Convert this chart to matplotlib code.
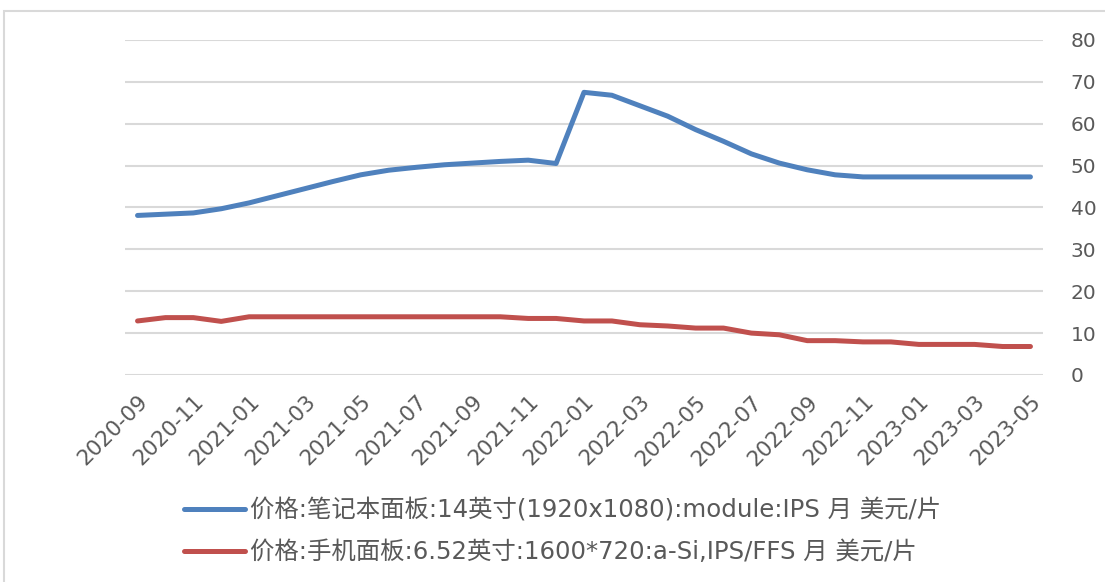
import numpy as np
import pandas as pd
import matplotlib
matplotlib.use('Agg')
import matplotlib.pyplot as plt
from matplotlib.patches import Rectangle

plt.rcParams['font.family'] = ['DejaVu Sans', 'Noto Sans CJK SC']

# Месяцы 2020-09 ... 2023-05
months = [str(p) for p in pd.period_range('2020-09', '2023-05', freq='M')]

# Цена панели ноутбука 14" (USD/шт)
laptop = [38.1, 38.4, 38.7, 39.7, 41.1, 42.8, 44.5, 46.2, 47.8, 48.9, 49.6,
          50.2, 50.6, 51.0, 51.3, 50.5, 67.5, 66.8, 64.3, 61.8, 58.6, 55.8,
          52.8, 50.6, 49.0, 47.8, 47.3, 47.3, 47.3, 47.3, 47.3, 47.3, 47.3]

# Цена панели телефона 6.52" (USD/шт)
phone = [12.9, 13.7, 13.7, 12.8, 13.9, 13.9, 13.9, 13.9, 13.9, 13.9, 13.9,
         13.9, 13.9, 13.9, 13.5, 13.5, 12.9, 12.9, 12.0, 11.7, 11.2, 11.2,
         10.0, 9.6, 8.2, 8.2, 7.9, 7.9, 7.3, 7.3, 7.3, 6.8, 6.8]

label_laptop = '价格:笔记本面板:14英寸(1920x1080):module:IPS 月 美元/片'
label_phone = '价格:手机面板:6.52英寸:1600*720:a-Si,IPS/FFS 月 美元/片'

fig = plt.figure(figsize=(11.05, 5.82), dpi=100)
ax = fig.add_axes([0.1131, 0.3557, 0.8308, 0.5756])

x = np.arange(len(months))
ax.plot(x, laptop, color='#4F81BD', lw=3.6, solid_capstyle='round',
        label=label_laptop)
ax.plot(x, phone, color='#C0504D', lw=3.6, solid_capstyle='round',
        label=label_phone)

ax.set_xlim(-0.45, len(months) - 0.55)
ax.set_ylim(0, 80)
ax.set_yticks(range(0, 81, 10))
ax.yaxis.tick_right()
ax.grid(axis='y', color='#D9D9D9', lw=1.5)
ax.set_axisbelow(True)
for s in ax.spines.values():
    s.set_visible(False)

ax.set_xticks(x[::2])
ax.set_xticklabels(months[::2], rotation=45, ha='right',
                   rotation_mode='anchor')
ax.tick_params(axis='x', length=0, pad=12, labelsize=15.5, colors='#595959')
ax.tick_params(axis='y', length=0, pad=20, labelsize=14.5, colors='#595959')

leg = fig.legend(loc='upper left', bbox_to_anchor=(0.1465, 0.181),
                 frameon=False, fontsize=17.6, handlelength=2.5,
                 handletextpad=0.2, labelspacing=0.72, labelcolor='#595959')

# рамка вокруг диаграммы
fig.patches.append(Rectangle((0.004, -0.01), 1.2, 0.991,
                             transform=fig.transFigure, fill=False,
                             edgecolor='#D9D9D9', lw=1.5))

fig.savefig('out.png', dpi=100)
